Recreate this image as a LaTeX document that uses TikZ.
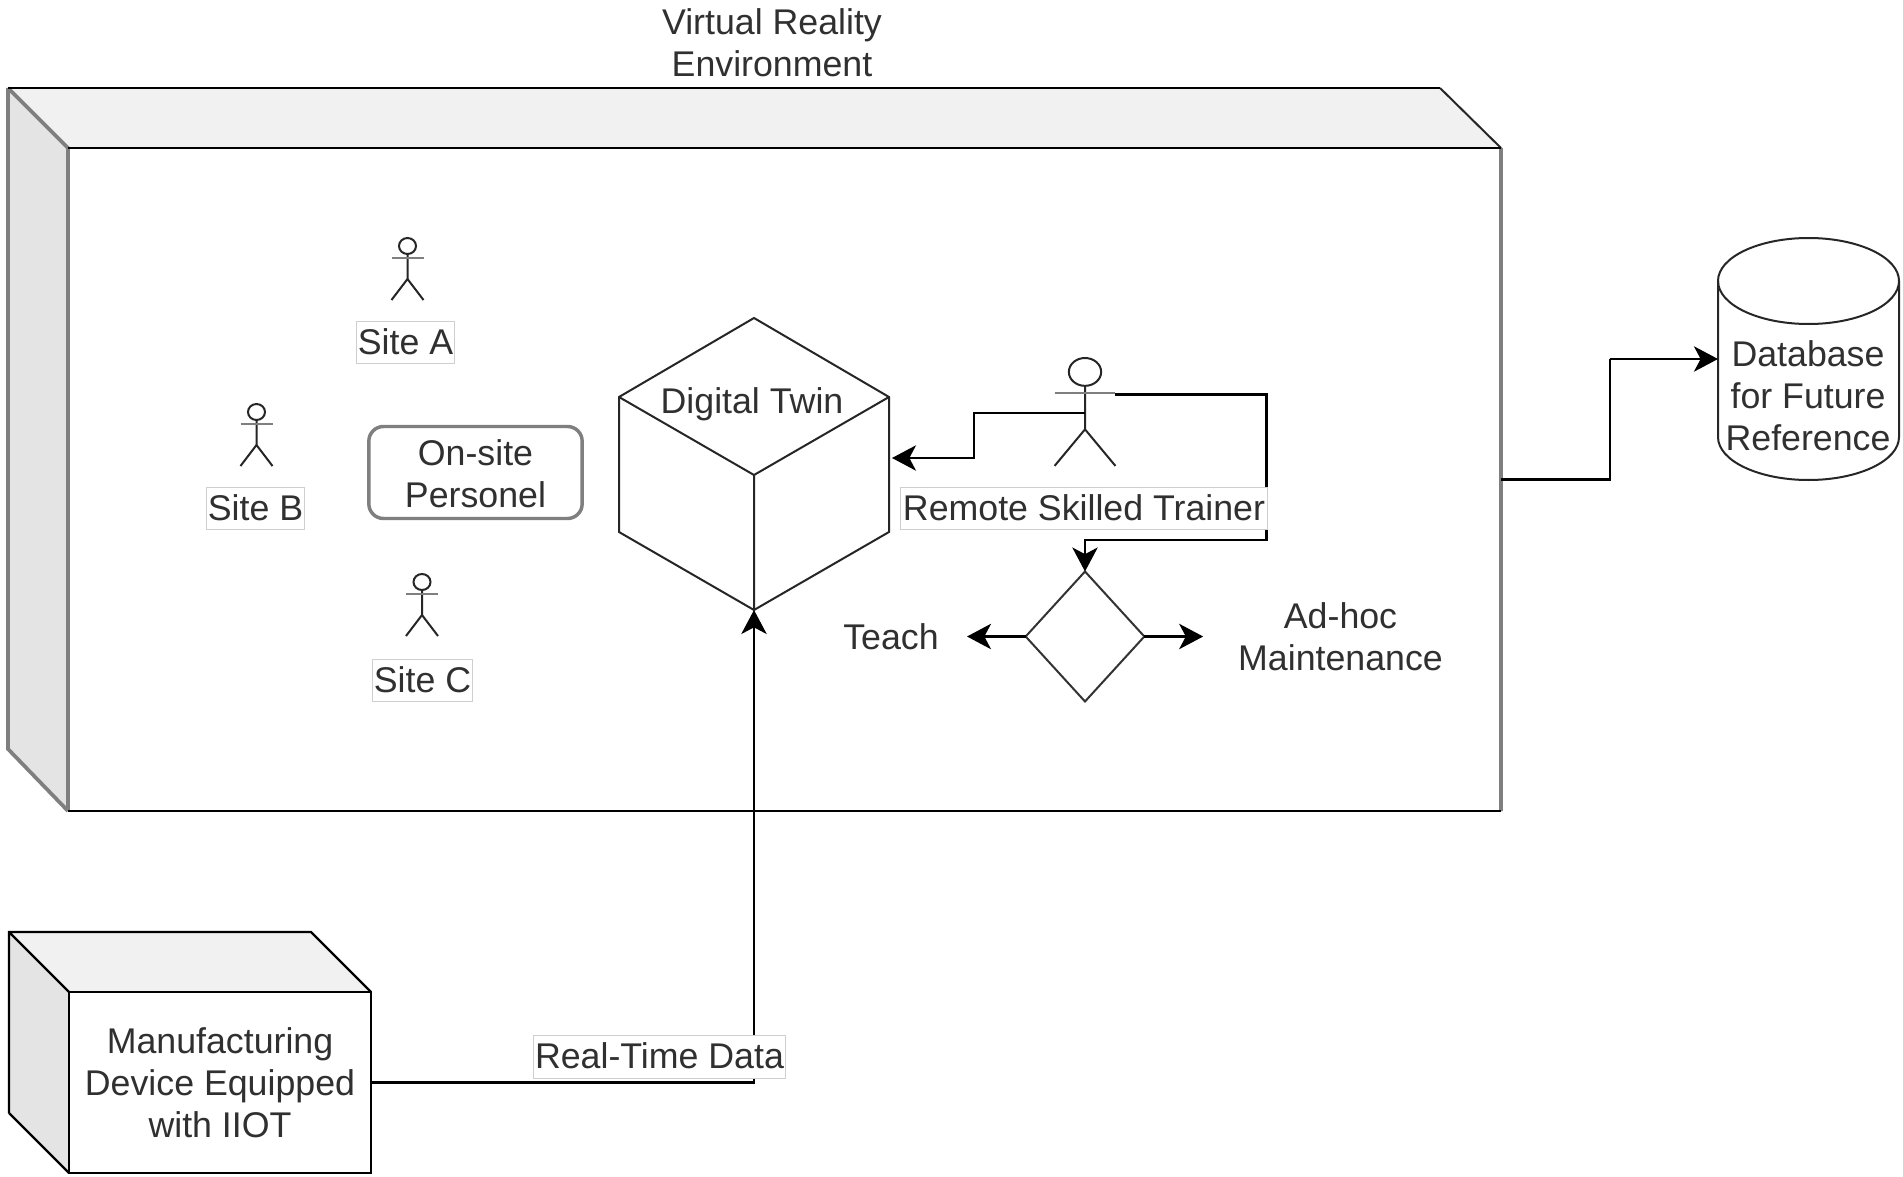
\documentclass[tikz,border=0pt]{standalone}
\usepackage{fontspec}
\setmainfont{Liberation Sans}
\usetikzlibrary{arrows.meta,shapes.geometric}
\definecolor{txtgray}{HTML}{303030}
\definecolor{edgegray}{HTML}{7F7F7F}
\definecolor{boxgray}{HTML}{CFCFCF}
\definecolor{topface}{HTML}{F1F1F1}
\definecolor{sideface}{HTML}{E4E4E4}
\tikzset{
  every node/.style={font=\fontsize{26.8}{31.5}\selectfont,text=txtgray,align=center,inner sep=0pt,outer sep=0pt},
  blackline/.style={black,line width=1.8pt,line join=miter},
  grayline/.style={edgegray,line width=2.8pt},
  thinline/.style={black!85,line width=1.5pt},
  conn/.style={black,line width=2pt,-{Stealth[length=18pt,width=19pt,inset=5pt]}},
  plainconn/.style={black,line width=2pt},
  labelbox/.style={fill=white,draw=boxgray,line width=.8pt,minimum height=32pt,inner xsep=1pt,text depth=1.5pt},
}
\newcommand{\stickman}[5]{
  \begin{scope}[shift={(#2,#3)},xscale=#4,yscale=#5]
  \draw[thinline] (0,-8) ellipse (8.5 and 8);
  \draw[thinline] (0,-16)--(0,-41) (-16,-62)--(0,-41)--(16,-62);
  \draw[edgegray,line width=1.8pt] (-16,-20)--(16,-20);
  \coordinate (#1) at (0,-31.6);
  \coordinate (#1arm) at (16,-21);
  \end{scope}
}

\begin{document}
\begin{tikzpicture}[x=.75pt,y=.75pt]
  \useasboundingbox (0,0) rectangle (1903,-1177);
  % virtual reality box
  \fill[topface] (8,-88)--(1440,-88)--(1501,-148)--(68,-148)--cycle;
  \fill[sideface] (8,-88)--(68,-148)--(68,-811)--(8,-749)--cycle;
  \node[fill=white,minimum width=1075pt,minimum height=497pt] (vrfront) at (784.5,-479.5) {};
  \draw[grayline] (8,-88)--(8,-749)--(68,-811) (8,-88)--(68,-148)--(68,-811) (1501,-148)--(1501,-811);
  \draw[thinline] (1440,-88)--(1501,-148);
  \draw[blackline] (8,-88)--(1440,-88) (68,-148)--(1501,-148) (68,-811)--(1501,-811);
  \node (vrtitle) at (772,-43) {Virtual Reality\\Environment};
  % site people
  \stickman{actA}{407.5}{-238}{1}{1}
  \stickman{actB}{256.5}{-404}{1}{1}
  \stickman{actC}{422}{-574}{1}{1}
  \stickman{trainer}{1085}{-358}{1.9}{1.74}
  \node[labelbox,minimum width=72.8pt] (siteA) at (405.5,-342.5) {Site A};
  \node[labelbox,minimum width=72.8pt] (siteB) at (255.5,-508.5) {Site B};
  \node[labelbox,minimum width=75pt] (siteC) at (422.5,-680.5) {Site C};
  \node[draw=edgegray,line width=2.6pt,rounded corners=11pt,minimum width=160pt,minimum height=69pt] (onsite) at (475.5,-472.5) {};
  \node (onsitetext) at (475.5,-474) {On-site\\Personel};
  % digital twin
  \node[minimum width=202pt,minimum height=219pt] (twin) at (754,-464) {};
  \draw[thinline,line join=miter] (754,-318)--(889,-397)--(889,-532)--(754,-610)--(619,-532)--(619,-397)--cycle;
  \draw[thinline] (619,-397)--(754,-475)--(889,-397) (754,-475)--(754,-610);
  \node (twinlabel) at (752,-404) {Digital Twin};
  \coordinate (twinport) at (892,-458);
  % trainer decision
  \node[draw=black!80,line width=1.5pt,diamond,aspect=.9,minimum width=89pt,minimum height=97.5pt] (branch) at (1085,-636.5) {};
  \node[minimum width=114pt] (teach) at (891,-636.5) {Teach};
  \node[minimum width=206pt] (adhoc) at (1340.5,-636.5) {Ad-hoc\\Maintenance};
  \draw[conn] (trainer)--(trainer-|974,0)--(974,-458)--(twinport);
  \draw[conn] (trainerarm)--(trainerarm-|1266.5,0)--(1266.5,-540)--(1085,-540)--(branch.north);
  \draw[conn] (branch.west)--(teach.east);
  \draw[conn] (branch.east)--(adhoc.west);
  \node[labelbox,minimum width=275pt] (trainerlabel) at (1084,-508.5) {Remote Skilled Trainer};
  % manufacturing device
  \fill[topface] (9,-932)--(311,-932)--(371,-992)--(69,-992)--cycle;
  \fill[sideface] (9,-932)--(69,-992)--(69,-1173)--(9,-1113)--cycle;
  \node[fill=white,draw=black,line width=1.8pt,minimum width=226.5pt,minimum height=135.8pt] (device) at (220,-1082.5) {Manufacturing\\Device Equipped\\with IIOT};
  \draw[blackline] (9,-1113)--(9,-932)--(311,-932)--(371,-992) (9,-932)--(69,-992) (9,-1113)--(69,-1173);
  \draw[conn] (device.east)--(twin.south|-device.east)--(twin.south);
  \node[labelbox,minimum width=189pt] (datalabel) at (659.5,-1057) {Real-Time Data};
  % database
  \node[minimum width=135.8pt,minimum height=181.5pt] (dbase) at (1808.5,-359) {};
  \draw[thinline] (1718,-281) arc[start angle=180,end angle=-180,x radius=90.5,y radius=43];
  \draw[thinline] (1718,-281)--(1718,-437) arc[start angle=180,end angle=360,x radius=90.5,y radius=43]--(1899,-281);
  \node (dbtext) at (1808,-396) {Database\\for Future\\Reference};
  \coordinate (dbturn) at (1610,-359);
  \draw[plainconn] (vrfront.east)--(vrfront.east-|dbturn)--(dbturn);
  \draw[conn] (dbturn)--(dbase.west);
\end{tikzpicture}
\end{document}
